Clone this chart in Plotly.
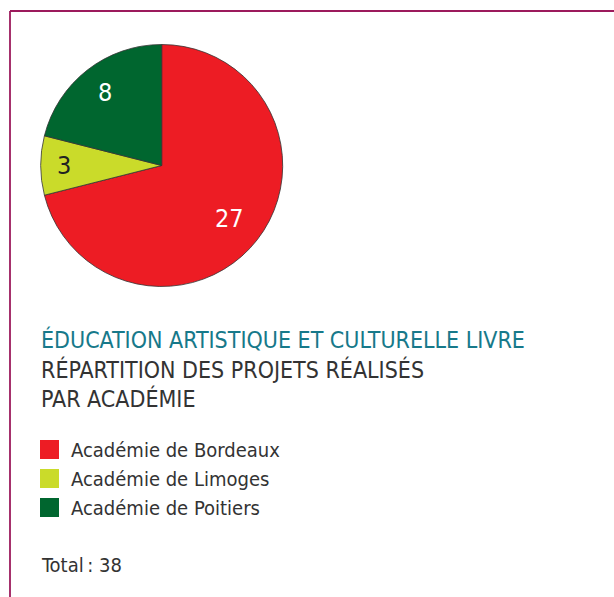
import math
import plotly.graph_objects as go

labels = ["Académie de Bordeaux", "Académie de Limoges", "Académie de Poitiers"]
values = [27, 3, 8]
colors = ["#ED1C24", "#CADB2A", "#00662F"]
text_colors = ["#FFFFFF", "#222222", "#FFFFFF"]
label_radius = [0.71, 0.81, 0.76]  # fraction of radius where each value label sits
title_lines = ["ÉDUCATION ARTISTIQUE ET CULTURELLE LIVRE",
               "RÉPARTITION DES PROJETS RÉALISÉS",
               "PAR ACADÉMIE"]
total_label = "Total\u202f: " + str(sum(values))

W, H = 614, 597
FONT = "Liberation Sans Narrow, DejaVu Sans Condensed, Arial Narrow, sans-serif"

def px(x):
    return x / W

def py(y):
    return 1 - y / H

fig = go.Figure()
cx, cy, r = 161.7, 165.5, 121
fig.add_trace(go.Pie(
    labels=labels, values=values, sort=False, direction="clockwise", rotation=0,
    marker=dict(colors=colors, line=dict(color="#333333", width=0.8)),
    textinfo="none",
    domain=dict(x=[px(cx - r), px(cx + r)], y=[py(cy + r), py(cy - r)]),
    showlegend=False, hoverinfo="label+value",
))

shapes = [
    dict(type="line", xref="paper", yref="paper", x0=px(10), x1=px(10), y0=0, y1=py(11),
         line=dict(color="#9C1A5C", width=1.8)),
    dict(type="line", xref="paper", yref="paper", x0=px(10), x1=1, y0=py(11), y1=py(11),
         line=dict(color="#9C1A5C", width=1.8)),
]
annotations = []

# value labels placed at the mid-angle of each slice
total = sum(values)
cum = 0
for v, tc, fr in zip(values, text_colors, label_radius):
    mid = (cum + v / 2) / total * 2 * math.pi
    cum += v
    lx = cx + fr * r * math.sin(mid)
    ly = cy - fr * r * math.cos(mid)
    annotations.append(dict(text=str(v), xref="paper", yref="paper", x=px(lx), y=py(ly),
                            xanchor="center", yanchor="middle", showarrow=False,
                            font=dict(family=FONT, size=25, color=tc)))

title_colors = ["#17798A", "#333333", "#333333"]
for i, t in enumerate(title_lines):
    annotations.append(dict(text=t, xref="paper", yref="paper", x=px(39), y=py(340 + 29 * i),
                            xanchor="left", yanchor="middle", showarrow=False,
                            font=dict(family=FONT, size=23, color=title_colors[i])))
for i, (lab, col) in enumerate(zip(labels, colors)):
    yc = 449.5 + 29 * i
    shapes.append(dict(type="rect", xref="paper", yref="paper", x0=px(40), x1=px(59),
                       y0=py(yc + 9.5), y1=py(yc - 9.5), fillcolor=col, line=dict(width=0)))
    annotations.append(dict(text=lab, xref="paper", yref="paper", x=px(69), y=py(yc),
                            xanchor="left", yanchor="middle", showarrow=False,
                            font=dict(family=FONT, size=20, color="#333333")))
annotations.append(dict(text=total_label, xref="paper", yref="paper", x=px(39), y=py(565),
                        xanchor="left", yanchor="middle", showarrow=False,
                        font=dict(family=FONT, size=20, color="#333333")))

fig.update_layout(width=W, height=H, margin=dict(l=0, r=0, t=0, b=0),
                  paper_bgcolor="white", plot_bgcolor="white",
                  shapes=shapes, annotations=annotations)
fig.write_html("out.html", config={"displayModeBar": False},
               post_script="document.body.style.margin='0';")
